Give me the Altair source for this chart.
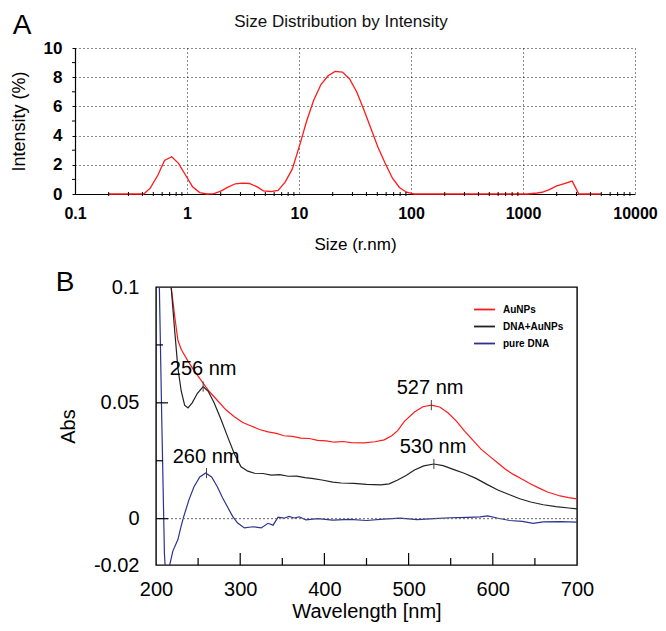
import altair as alt
import pandas as pd

FONT = "Liberation Sans"

# ---------------- Panel A: DLS size distribution ----------------
size_nm = [0.2, 0.41, 0.47, 0.55, 0.63, 0.73, 0.84, 0.97, 1.12, 1.3, 1.5, 1.74, 2.0, 2.3,
           2.7, 3.1, 3.6, 4.2, 4.8, 5.6, 6.5, 7.5, 8.7, 10.1, 11.7, 13.5, 15.7, 18.2, 21,
           24.4, 28.2, 32.7, 37.8, 43.8, 50.7, 58.8, 68.1, 78.8, 91.3, 106, 300, 1100,
           1280, 1480, 1720, 2000, 2300, 2750, 3150, 5000]
intensity = [0, 0, 0.4, 1.3, 2.3, 2.55, 2.1, 1.3, 0.5, 0.1, 0, 0.02, 0.2, 0.45,
             0.7, 0.75, 0.72, 0.5, 0.22, 0.17, 0.25, 0.8, 1.7, 3.3, 5.0, 6.4, 7.5, 8.1, 8.4,
             8.35, 7.9, 7.0, 5.8, 4.5, 3.2, 2.1, 1.1, 0.45, 0.12, 0, 0, 0,
             0.05, 0.12, 0.3, 0.55, 0.7, 0.88, 0, 0]
a_x_ticks = [0.1, 1, 10, 100, 1000, 10000]
a_y_ticks = [0, 2, 4, 6, 8, 10]
a_x_minor = [m * d for d in [0.1, 1, 10, 100, 1000] for m in range(2, 10)]
a_y_minor = [1, 3, 5, 7, 9]

# ---------------- Panel B: UV-vis spectra ----------------
wl_aunp = [212, 218, 222, 226, 230, 238, 245, 253, 263, 273, 283, 293, 303, 313, 323, 333,
           343, 352, 362, 372, 382, 392, 402, 412, 422, 432, 447, 460, 471, 480, 487, 495,
           507, 517, 527, 537, 547, 557, 566, 576, 586, 596, 606, 615, 625, 635, 645, 655,
           665, 680, 690, 700]
abs_aunp = [0.13, 0.100, 0.088, 0.077, 0.073, 0.068, 0.064, 0.060, 0.055, 0.051, 0.047, 0.044,
            0.0415, 0.040, 0.0385, 0.0375, 0.0368, 0.0358, 0.0355, 0.0348, 0.0346, 0.0338,
            0.0336, 0.033, 0.0333, 0.0328, 0.0327, 0.0332, 0.034, 0.0358, 0.038, 0.042,
            0.046, 0.0483, 0.049, 0.0482, 0.0456, 0.042, 0.038, 0.034, 0.030, 0.027, 0.024,
            0.0213, 0.019, 0.017, 0.015, 0.0132, 0.0115, 0.0098, 0.0091, 0.0085]

wl_dna_aunp = [214, 218, 222, 226, 230, 234, 238, 243, 249, 256, 262, 269, 277, 285, 293, 301,
               309, 317, 327, 337, 347, 357, 367, 377, 387, 397, 410, 420, 435, 450, 467, 477,
               487, 497, 507, 518, 530, 541, 553, 566, 580, 593, 606, 620, 632, 645, 660, 675,
               690, 700]
abs_dna_aunp = [0.13, 0.10, 0.082, 0.065, 0.055, 0.049, 0.0478, 0.050, 0.054, 0.057, 0.055,
                0.050, 0.043, 0.0354, 0.028, 0.0224, 0.0205, 0.0196, 0.0195, 0.0188, 0.0190,
                0.0183, 0.0184, 0.0177, 0.0173, 0.0167, 0.0158, 0.0154, 0.0152, 0.0148,
                0.0146, 0.015, 0.0167, 0.0186, 0.021, 0.0228, 0.0236, 0.0229, 0.0213, 0.0196,
                0.0174, 0.0148, 0.0124, 0.0103, 0.0086, 0.0072, 0.0060, 0.0052, 0.0046, 0.0042]

wl_dna = [201, 204, 207, 210, 212, 215, 220, 226, 230, 233, 239, 245, 252, 259, 266, 273, 279,
          285, 291, 297, 305, 315, 325, 333, 339, 345, 352, 358, 364, 370, 378, 392, 410, 430,
          450, 470, 490, 510, 530, 550, 570, 585, 594, 605, 620, 635, 648, 660, 680, 700]
abs_dna = [0.13, 0.10, 0.04, -0.015, -0.028, -0.022, -0.014, -0.009, -0.003, 0.001, 0.008,
           0.0137, 0.018, 0.0197, 0.018, 0.0137, 0.009, 0.005, 0.001, -0.0019, -0.004,
           -0.0035, -0.004, -0.002, -0.0028, 0.0006, 0.0002, 0.001, 0.0003, 0.0008, -0.0005,
           0.0, -0.0006, -0.0003, -0.0008, -0.0002, 0.0002, -0.0004, 0.0, 0.0004, 0.0006,
           0.0008, 0.0012, 0.0003, -0.0008, -0.0012, -0.002, -0.0014, -0.0013, -0.0015]

series_names = ["AuNPs", "DNA+AuNPs", "pure DNA"]
series_colors = ["#ff1a1a", "#222222", "#2b338f"]

peak_wl = [256, 260, 527, 530]
peak_abs = [0.057, 0.0197, 0.049, 0.0236]
peak_label = ["256 nm", "260 nm", "527 nm", "530 nm"]
label_wl = [256, 259.5, 525.5, 529]
label_abs = [0.0646, 0.0266, 0.0564, 0.031]

b_x_ticks = [200, 300, 400, 500, 600, 700]
b_y_ticks = [-0.02, 0, 0.05, 0.1]
b_x_major = [300, 400, 500, 600]
b_x_minor = [250, 350, 450, 550, 650]
b_y_major = [0, 0.05]
b_y_minor = [0.025, 0.075]

# ======================= Panel A =======================
WA, HA = 560, 146
xsA = alt.Scale(type="log", domain=[0.1, 10000])
ysA = alt.Scale(domain=[0, 10], nice=False)
axisXA = alt.Axis(values=a_x_ticks, format="~g", title="Size (r.nm)",
                  grid=True, gridDash=[1, 3], gridColor="black", gridOpacity=0.9,
                  domainColor="black", domainWidth=1.2, ticks=False,
                  labelFontSize=16, labelFontWeight="bold", labelColor="black",
                  labelPadding=11, titleFontSize=17, titleFontWeight="normal",
                  titleColor="black", titlePadding=15, labelFlush=False,
                  labelOverlap=False)
axisYA = alt.Axis(values=a_y_ticks, title="Intensity (%)",
                  grid=True, gridDash=[1, 3], gridColor="black", gridOpacity=0.9,
                  domainColor="black", domainWidth=1.2, tickColor="black", tickSize=3,
                  labelFontSize=17, labelFontWeight="bold", labelColor="black",
                  labelPadding=10, titleFontSize=18, titleFontWeight="normal",
                  titleColor="black", titlePadding=15, minExtent=32, maxExtent=32,
                  labelOverlap=False, labelFlush=False)

dfA = pd.DataFrame({"size": size_nm, "intensity": intensity})
lineA = alt.Chart(dfA).mark_line(color="#ff1a1a", strokeWidth=1.3).encode(
    x=alt.X("size:Q", scale=xsA, axis=axisXA),
    y=alt.Y("intensity:Q", scale=ysA, axis=axisYA))

minorXA = alt.Chart(pd.DataFrame({"m": a_x_minor})).mark_rule(color="black", strokeWidth=1).encode(
    x=alt.X("m:Q", scale=xsA, axis=axisXA), y=alt.value(HA - 2), y2=alt.value(HA + 2))
minorYA = alt.Chart(pd.DataFrame({"m": a_y_minor})).mark_rule(color="black", strokeWidth=1).encode(
    y=alt.Y("m:Q", scale=ysA, axis=axisYA), x=alt.value(-3), x2=alt.value(0))

titleA = alt.Chart(pd.DataFrame({"t": ["Size Distribution by Intensity"]})).mark_text(
    font=FONT, fontSize=17, color="#111", align="center", baseline="middle").encode(
    text="t:N", x=alt.value(266), y=alt.value(-26))
letterA = alt.Chart(pd.DataFrame({"t": ["A"]})).mark_text(
    font=FONT, fontSize=28, color="black", align="center", baseline="middle").encode(
    text="t:N", x=alt.value(-53), y=alt.value(-22))
boundA = alt.Chart(pd.DataFrame({"t": [0]})).mark_rule(color="white", strokeWidth=0.5).encode(
    x=alt.value(-60), y=alt.value(-39), y2=alt.value(-38))

panelA = alt.layer(lineA, minorXA, minorYA, titleA, letterA, boundA).properties(
    width=WA, height=HA, view=alt.ViewBackground(stroke=None))

# ======================= Panel B =======================
WB, HB = 421, 278
dfB = pd.concat([
    pd.DataFrame({"wl": wl_aunp, "abs": abs_aunp, "series": series_names[0]}),
    pd.DataFrame({"wl": wl_dna_aunp, "abs": abs_dna_aunp, "series": series_names[1]}),
    pd.DataFrame({"wl": wl_dna, "abs": abs_dna, "series": series_names[2]}),
])
xs = alt.Scale(domain=[200, 700], nice=False)
ys = alt.Scale(domain=[-0.02, 0.1], nice=False)

axisXB = alt.Axis(values=b_x_ticks, title="Wavelength [nm]", grid=False, domain=False,
                  ticks=False, labelFontSize=20, labelColor="black", labelPadding=14,
                  titleFontSize=20, titleFontWeight="normal", titleColor="black",
                  titlePadding=2, labelFlush=False, labelOverlap=False)
axisYB = alt.Axis(values=b_y_ticks, title="Abs", grid=False, domain=False, ticks=False,
                  labelExpr="datum.value < 0 ? '-' + format(-datum.value, '~g') : format(datum.value, '~g')",
                  labelFontSize=20, labelColor="black", labelPadding=17,
                  titleFontSize=20, titleFontWeight="normal", titleColor="black",
                  titlePadding=15, minExtent=63, maxExtent=63,
                  labelFlush=False, labelOverlap=False)

lines = alt.Chart(dfB).mark_line(strokeWidth=1.2, clip=True).encode(
    x=alt.X("wl:Q", scale=xs, axis=axisXB),
    y=alt.Y("abs:Q", scale=ys, axis=axisYB),
    color=alt.Color("series:N",
                    scale=alt.Scale(domain=series_names, range=series_colors),
                    legend=alt.Legend(title=None, orient="none", legendX=317, legendY=11,
                                      symbolType="stroke", symbolSize=440, symbolStrokeWidth=1.8,
                                      labelFont=FONT, labelFontSize=10, labelFontWeight="bold",
                                      labelColor="black", rowPadding=0, padding=0,
                                      labelOffset=7)))

zero = alt.Chart(pd.DataFrame({"z": [0]})).mark_rule(
    color="#666", strokeDash=[2, 2], strokeWidth=1).encode(
    y=alt.Y("z:Q", scale=ys, axis=axisYB))

peaks = alt.Chart(pd.DataFrame({"w": peak_wl, "a": peak_abs})).transform_calculate(
    a1="datum.a - 0.0022", a2="datum.a + 0.0022").mark_rule(color="#444", strokeWidth=1).encode(
    x=alt.X("w:Q", scale=xs, axis=axisXB), y=alt.Y("a1:Q", scale=ys, axis=axisYB), y2="a2:Q")

labels = alt.Chart(pd.DataFrame({"w": label_wl, "a": label_abs, "t": peak_label})).mark_text(
    font=FONT, fontSize=20, color="black", align="center", baseline="middle").encode(
    x=alt.X("w:Q", scale=xs, axis=axisXB), y=alt.Y("a:Q", scale=ys, axis=axisYB), text="t:N")

xTickMaj = alt.Chart(pd.DataFrame({"v": b_x_major})).mark_rule(color="black", strokeWidth=1.2).encode(
    x=alt.X("v:Q", scale=xs, axis=axisXB), y=alt.value(HB), y2=alt.value(HB - 12))
xTickMin = alt.Chart(pd.DataFrame({"v": b_x_minor})).mark_rule(color="black", strokeWidth=1.2).encode(
    x=alt.X("v:Q", scale=xs, axis=axisXB), y=alt.value(HB), y2=alt.value(HB - 7))
yTickMaj = alt.Chart(pd.DataFrame({"v": b_y_major})).mark_rule(color="black", strokeWidth=1.2).encode(
    y=alt.Y("v:Q", scale=ys, axis=axisYB), x=alt.value(0), x2=alt.value(12))
yTickMin = alt.Chart(pd.DataFrame({"v": b_y_minor})).mark_rule(color="black", strokeWidth=1.2).encode(
    y=alt.Y("v:Q", scale=ys, axis=axisYB), x=alt.value(0), x2=alt.value(7))

letterB = alt.Chart(pd.DataFrame({"t": ["B"]})).mark_text(
    font=FONT, fontSize=28, color="black", align="center", baseline="middle").encode(
    text="t:N", x=alt.value(-91), y=alt.value(-4))

panelB = alt.layer(lines, zero, peaks, labels, xTickMaj, xTickMin, yTickMaj, yTickMin,
                   letterB).properties(
    width=WB, height=HB, view=alt.ViewBackground(stroke="black", strokeWidth=1.4))

spacerA = alt.Chart(pd.DataFrame({"a": [0]})).mark_point(opacity=0, size=0.01).encode(
    x=alt.value(1), y=alt.value(10)).properties(
    width=2, height=HA, view=alt.ViewBackground(stroke=None))
spacerB = alt.Chart(pd.DataFrame({"a": [0]})).mark_point(opacity=0, size=0.01).encode(
    x=alt.value(10), y=alt.value(10)).properties(
    width=46, height=HB, view=alt.ViewBackground(stroke=None))

rowA = alt.hconcat(spacerA, panelA, spacing=0)
rowB = alt.hconcat(spacerB, panelB, spacing=0).resolve_legend(color="independent")

chart = alt.vconcat(rowA, rowB, spacing=16).resolve_legend(color="independent").properties(
    padding=0).configure(font=FONT).configure_axis(labelFont=FONT, titleFont=FONT)

chart.save("out.html", embed_options={"renderer": "svg", "actions": False})
